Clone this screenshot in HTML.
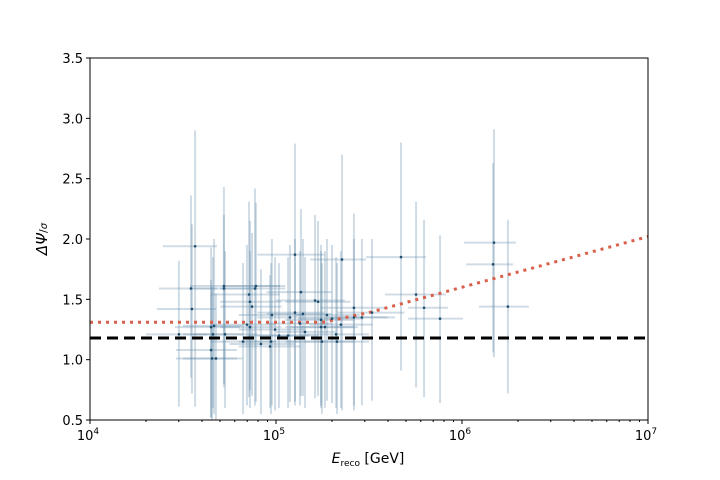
<!DOCTYPE html>
<html><head><meta charset="utf-8"><style>
body{margin:0;background:#fff;}
svg{display:block;font-family:"DejaVu Sans","Liberation Sans",sans-serif;}
</style></head><body>
<svg id="chart" width="720" height="480" viewBox="0 0 720 480" xmlns="http://www.w3.org/2000/svg">
<rect x="0" y="0" width="720" height="480" fill="#fff"/>
<g id="bars"></g>
<g id="lines"></g>
<g id="pts"></g>
<rect x="90" y="58" width="558" height="362" fill="none" stroke="#000" stroke-width="1"/>
<g id="axes"></g>
<text x="368" y="463" font-size="14" text-anchor="middle"><tspan font-style="italic">E</tspan><tspan font-size="9" dy="3">reco</tspan><tspan dy="-3">  [GeV]</tspan></text>
<text transform="translate(47,239) rotate(-90)" font-size="15" text-anchor="middle"><tspan font-style="italic">ΔΨ</tspan><tspan font-size="11">/</tspan><tspan font-size="10" font-style="italic">σ</tspan></text>
</svg>
<script>
const logE =   [4.565,4.543,4.548,4.478,4.651,4.667,4.661,4.651,4.656,4.677,4.720,4.720,4.726,4.855,4.860,4.871,4.887,4.892,4.844,4.860,4.823,4.919,4.968,4.978,4.995,4.973,5.016,5.102,5.134,5.102,5.145,5.075,5.129,5.156,5.210,5.226,5.065,5.355,5.242,5.274,5.301,5.349,5.242,5.263,5.247,5.328,5.323,5.419,5.419,5.462,5.516,5.672,5.753,5.796,5.882,6.172,6.167,6.247];
const psi =    [1.94,1.59,1.42,1.21,1.27,1.28,1.21,1.08,1.01,1.01,1.61,1.59,1.21,1.54,1.48,1.44,1.59,1.61,1.29,1.27,1.15,1.13,1.11,1.37,1.25,1.15,1.20,1.87,1.56,1.39,1.38,1.35,1.30,1.23,1.49,1.48,1.20,1.83,1.33,1.37,1.34,1.29,1.27,1.27,1.15,1.15,1.21,1.43,1.35,1.35,1.39,1.85,1.54,1.43,1.34,1.97,1.79,1.44];
const psiLo =  [0.61,0.85,0.72,0.61,0.52,0.55,0.6,0.52,0.5,0.5,0.77,0.8,0.6,0.69,0.75,0.7,0.62,0.65,0.62,0.6,0.55,0.55,0.6,0.62,0.58,0.55,0.6,0.62,0.7,0.65,0.7,0.65,0.62,0.6,0.68,0.7,0.6,0.58,0.62,0.66,0.64,0.6,0.6,0.6,0.55,0.55,0.6,0.58,0.62,0.62,0.66,0.91,0.77,0.69,0.64,1.02,1.06,0.72];
const psiHi =  [2.90,2.36,2.12,1.82,1.93,2.0,1.85,1.66,1.6,1.55,2.43,2.2,1.9,2.31,2.15,2.05,2.42,2.3,1.95,1.9,1.8,1.75,1.7,2.0,1.85,1.8,1.8,2.79,2.25,2.0,2.0,1.95,1.9,1.85,2.2,2.15,1.85,2.70,1.95,2.0,1.95,1.9,1.9,1.9,1.8,1.8,1.85,2.21,2.0,2.0,2.0,2.80,2.31,2.16,2.03,2.91,2.63,2.16];
const logELo = [4.392,4.371,4.360,4.301,4.457,4.5,4.5,4.462,4.462,4.5,4.538,4.55,4.55,4.65,4.7,4.7,4.7,4.72,4.65,4.7,4.65,4.75,4.8,4.8,4.8,4.8,4.85,4.9,4.95,4.9,4.95,4.9,4.95,5.0,5.0,5.05,4.9,5.183,5.05,5.1,5.12,5.18,5.05,5.08,5.05,5.15,5.15,5.24,5.24,5.28,5.33,5.484,5.586,5.710,5.710,6.011,6.022,6.091];
const logEHi = [4.683,4.683,4.677,4.629,4.806,4.82,4.82,4.790,4.790,4.82,5.022,4.9,4.9,5.02,5.03,5.03,5.05,5.05,5.0,5.03,5.0,5.1,5.13,5.15,5.16,5.13,5.18,5.26,5.3,5.26,5.3,5.24,5.3,5.32,5.37,5.4,5.23,5.484,5.42,5.45,5.47,5.52,5.42,5.44,5.42,5.5,5.5,5.6,5.6,5.64,5.69,5.806,5.914,5.925,6.005,6.290,6.274,6.360];
const curveLogE = [4,5.25,5.5,6,6.5,7];
const curveY = [1.31,1.31,1.39,1.60,1.81,2.02];
const threshold = 1.18;
const yTicks = [0.5,1.0,1.5,2.0,2.5,3.0,3.5];
const xTickExp = [4,5,6,7];

const X0=90,X1=648,Y0=420,Y1=58;
const xs = l => X0 + (l-4)/3*(X1-X0);
const ys = v => Y0 - (v-0.5)/3*(Y0-Y1);
const NS="http://www.w3.org/2000/svg";
function mk(tag,parent,attrs){const e=document.createElementNS(NS,tag);for(const k in attrs)e.setAttribute(k,attrs[k]);parent.appendChild(e);return e;}
const bars=document.getElementById('bars'),pts=document.getElementById('pts'),lines=document.getElementById('lines'),axes=document.getElementById('axes');
for(let i=0;i<logE.length;i++){
  const v=mk('line',bars,{x1:xs(logE[i]),x2:xs(logE[i]),y1:ys(psiLo[i]),y2:ys(psiHi[i]),stroke:'rgba(100,140,170,0.3)','stroke-width':2});
  
  
  const h=mk('line',bars,{x1:xs(logELo[i]),x2:xs(logEHi[i]),y1:ys(psi[i]),y2:ys(psi[i]),stroke:'rgba(100,140,170,0.3)','stroke-width':2});
  
  
  const c=mk('circle',pts,{cx:xs(logE[i]),cy:ys(psi[i]),r:1.3,fill:'#1f4e6e'});
  
  
}
const th=mk('line',lines,{x1:X0,x2:X1,y1:ys(threshold),y2:ys(threshold),stroke:'#000','stroke-width':3,'stroke-dasharray':'11,6'});


const cv=mk('polyline',lines,{points:curveLogE.map((l,i)=>xs(l)+','+ys(curveY[i])).join(' '),fill:'none',stroke:'#d9604a','stroke-width':3,'stroke-dasharray':'3,5'});


yTicks.forEach(t=>{
  const l=mk('line',axes,{x1:X0-4,x2:X0,y1:ys(t),y2:ys(t),stroke:'#000'});
  
  
  const tx=mk('text',axes,{x:X0-7,y:ys(t)+5,'font-size':13,'text-anchor':'end'});
  tx.textContent=t.toFixed(1);
  
  
});
xTickExp.forEach(e=>{
  const l=mk('line',axes,{x1:xs(e),x2:xs(e),y1:Y0,y2:Y0+4,stroke:'#000'});
  
  
  const tx=mk('text',axes,{x:xs(e)-2,y:Y0+20,'font-size':13,'text-anchor':'middle'});
  tx.innerHTML='10<tspan font-size="9" dy="-6">'+e+'</tspan>';
  
  
  if(e<7){for(let m=2;m<10;m++){
    const ml=mk('line',axes,{x1:xs(e+Math.log10(m)),x2:xs(e+Math.log10(m)),y1:Y0,y2:Y0+2,stroke:'#000'});
    
    
  }}
});
</script>
</body></html>
